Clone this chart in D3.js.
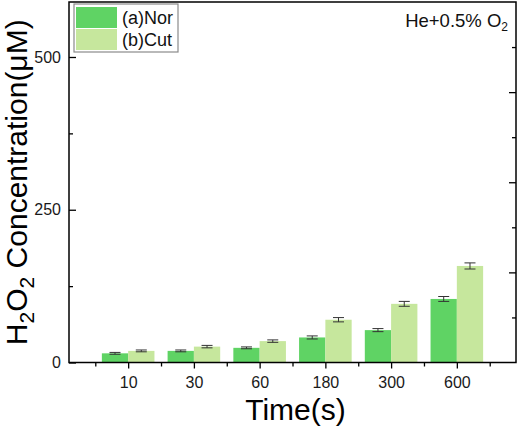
<!DOCTYPE html>
<html>
<head>
<meta charset="utf-8">
<script src="https://cdn.jsdelivr.net/npm/d3@7"></script>
<style>
  body { margin: 0; background: #fff; }
  svg text { font-family: Arial, "Liberation Sans", sans-serif; }
</style>
</head>
<body>
<div id="viz-container"></div>
<script>
// data
const times = ["10", "30", "60", "180", "300", "600"];
const norValues = [15, 19, 24, 41, 53, 104];
const norErrors = [1.5, 1.5, 1.5, 2.5, 2.5, 4];
const cutValues = [19, 26, 35, 70, 96, 158];
const cutErrors = [1.5, 2, 2, 3.5, 4, 5];
const seriesNames = ["(a)Nor", "(b)Cut"];
const yMajorTicks = [0, 250, 500];
const yMinorTicks = [125, 375];

const width = 520, height = 429;
const plotLeft = 69, plotRight = 516, plotTop = 2, plotBottom = 362.5;
const norColor = "#5fd364", cutColor = "#c6e79d";

const svg = d3.select("#viz-container").append("svg")
  .attr("width", width)
  .attr("height", height);

// category index on a linear scale so that the half ticks fall between groups
const x = d3.scaleLinear().domain([-0.9, 5.9]).range([plotLeft, plotRight]);
const y = d3.scaleLinear().domain([0, 590]).range([plotBottom, plotTop]);
const barW = 0.4;

// bars
const series = [
  { name: seriesNames[0], values: norValues, errors: norErrors, color: norColor, off: -barW },
  { name: seriesNames[1], values: cutValues, errors: cutErrors, color: cutColor, off: 0 }
];

series.forEach(s => {
  const g = svg.append("g");
  g.selectAll("rect")
    .data(s.values)
    .join("rect")
    .attr("x", (d, i) => x(i + s.off))
    .attr("width", (d, i) => x(i + s.off + barW) - x(i + s.off))
    .attr("y", d => y(d))
    .attr("height", d => y(0) - y(d))
    .attr("fill", s.color);

  // error bars
  const eb = g.selectAll("g.err")
    .data(s.values.map((v, i) => ({ v, e: s.errors[i], cx: x(i + s.off + barW / 2) })))
    .join("g")
    .attr("class", "err")
    .attr("stroke", "#333")
    .attr("stroke-width", 1);
  eb.append("line")
    .attr("x1", d => d.cx).attr("x2", d => d.cx)
    .attr("y1", d => y(d.v - d.e)).attr("y2", d => y(d.v + d.e));
  eb.append("line")
    .attr("x1", d => d.cx - 5.5).attr("x2", d => d.cx + 5.5)
    .attr("y1", d => y(d.v + d.e)).attr("y2", d => y(d.v + d.e));
  eb.append("line")
    .attr("x1", d => d.cx - 5.5).attr("x2", d => d.cx + 5.5)
    .attr("y1", d => y(d.v - d.e)).attr("y2", d => y(d.v - d.e));
});

// left axis, ticks point inward
svg.append("g")
  .attr("transform", `translate(${plotLeft},0)`)
  .call(d3.axisLeft(y).tickValues(yMajorTicks).tickSizeInner(-7).tickSizeOuter(0).tickPadding(8));
svg.append("g")
  .attr("transform", `translate(${plotLeft},0)`)
  .call(d3.axisLeft(y).tickValues(yMinorTicks).tickSizeInner(-4).tickSizeOuter(0).tickFormat(""));

// right axis: 8 intervals, alternating major/minor, no labels
const yr = d3.scaleLinear().domain([0, 8]).range([plotBottom, plotTop]);
svg.append("g")
  .attr("transform", `translate(${plotRight},0)`)
  .call(d3.axisRight(yr).tickValues([2, 4, 6]).tickSizeInner(-7).tickSizeOuter(0).tickFormat(""));
svg.append("g")
  .attr("transform", `translate(${plotRight},0)`)
  .call(d3.axisRight(yr).tickValues([1, 3, 5, 7]).tickSizeInner(-4).tickSizeOuter(0).tickFormat(""));

// bottom axis, ticks point outward
svg.append("g")
  .attr("transform", `translate(0,${plotBottom})`)
  .call(d3.axisBottom(x).tickValues(d3.range(times.length))
    .tickFormat(i => times[i]).tickSizeInner(6).tickSizeOuter(0).tickPadding(8));
svg.append("g")
  .attr("transform", `translate(0,${plotBottom})`)
  .call(d3.axisBottom(x).tickValues(d3.range(times.length + 1).map(i => i - 0.5))
    .tickSizeInner(4).tickSizeOuter(0).tickFormat(""));

svg.selectAll(".domain").remove();
svg.selectAll(".tick line").attr("stroke", "#000").attr("stroke-width", 1.3);
svg.selectAll(".tick text").attr("font-size", 16).attr("fill", "#1a1a1a")
  .style("font-family", "Arial, 'Liberation Sans', sans-serif");

// frame
svg.append("rect")
  .attr("x", plotLeft).attr("y", plotTop)
  .attr("width", plotRight - plotLeft).attr("height", plotBottom - plotTop)
  .attr("fill", "none").attr("stroke", "#000").attr("stroke-width", 1.5);

// legend
const legend = svg.append("g").attr("transform", "translate(74,4)");
legend.append("rect")
  .attr("width", 104).attr("height", 48)
  .attr("fill", "#fff").attr("stroke", "#8a8a8a").attr("stroke-width", 1.2);
series.forEach((s, i) => {
  legend.append("rect")
    .attr("x", 2).attr("y", 3 + i * 22)
    .attr("width", 41).attr("height", 21)
    .attr("fill", s.color);
  legend.append("text")
    .attr("x", 48).attr("y", 20 + i * 22)
    .attr("font-size", 18).attr("fill", "#111")
    .text(s.name);
});

// annotation
const note = svg.append("text")
  .attr("x", 508).attr("y", 27)
  .attr("text-anchor", "end")
  .attr("font-size", 18.5).attr("fill", "#111");
note.append("tspan").text("He+0.5% O");
note.append("tspan").attr("font-size", 12).attr("dy", 4).text("2");

// axis titles
svg.append("text")
  .attr("x", (plotLeft + plotRight) / 2 + 3).attr("y", 420)
  .attr("text-anchor", "middle")
  .attr("font-size", 30).attr("fill", "#000")
  .text("Time(s)");

const yTitle = svg.append("text")
  .attr("transform", "rotate(-90)")
  .attr("x", -(plotTop + plotBottom) / 2).attr("y", 27)
  .attr("text-anchor", "middle")
  .attr("font-size", 30).attr("fill", "#000");
yTitle.append("tspan").text("H");
yTitle.append("tspan").attr("font-size", 21).attr("dy", 7).text("2");
yTitle.append("tspan").attr("dy", -7).text("O");
yTitle.append("tspan").attr("font-size", 21).attr("dy", 7).text("2");
yTitle.append("tspan").attr("dy", -7).text(" Concentration(μM)");
</script>
</body>
</html>
